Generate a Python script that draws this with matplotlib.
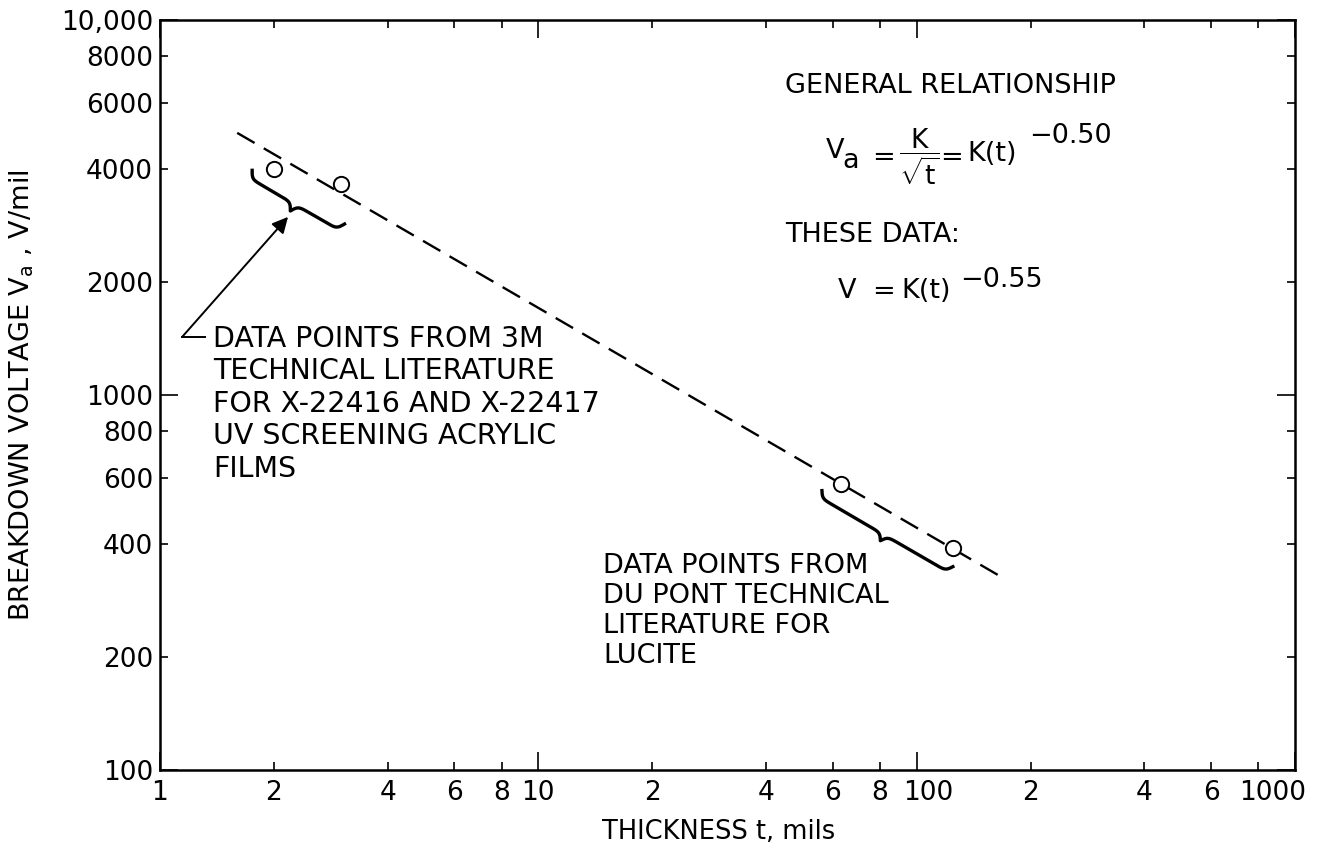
import numpy as np
import matplotlib
matplotlib.use("Agg")
import matplotlib.pyplot as plt
from matplotlib.transforms import IdentityTransform, ScaledTranslation

plt.rcParams['font.family'] = ['DejaVu Sans']
plt.rcParams['mathtext.fontset'] = 'custom'
plt.rcParams['mathtext.rm'] = 'DejaVu Sans'
plt.rcParams['mathtext.it'] = 'DejaVu Sans'
plt.rcParams['mathtext.bf'] = 'DejaVu Sans:bold'

# data
thick_3m = [2.0, 3.0]
volt_3m = [4000, 3650]
thick_dupont = [63, 125]
volt_dupont = [580, 390]
fit_thick = [1.6, 165]
fit_volt = [5000, 330]

x_major = [1, 10, 100, 1000]
x_major_labels = ['1', '10', '100', '1000']
x_minor = [2, 4, 6, 8, 20, 40, 60, 80, 200, 400, 600, 800]
x_minor_labels = ['2', '4', '6', '8', '2', '4', '6', '8', '2', '4', '6', '']
y_major = [100, 1000, 10000]
y_major_labels = ['100', '1000', '10,000']
y_minor = [200, 400, 600, 800, 2000, 4000, 6000, 8000]
y_minor_labels = ['200', '400', '600', '800', '2000', '4000', '6000', '8000']

W, H = 1319, 846
FS = 19.5


def px(x, y):
    # pixel position (from top left) -> figure fraction
    return x / W, 1 - y / H


fig = plt.figure(figsize=(W / 100, H / 100), dpi=100)
ax = fig.add_axes([160 / W, 76 / H, 1135 / W, 750 / H])
ax.set_xscale('log')
ax.set_yscale('log')
ax.set_xlim(1, 1000)
ax.set_ylim(100, 10000)

ax.set_xticks(x_major, x_major_labels)
ax.set_xticks(x_minor, x_minor_labels, minor=True)
ax.set_yticks(y_major, y_major_labels)
ax.set_yticks(y_minor, y_minor_labels, minor=True)
ax.tick_params(which='both', direction='in', top=True, right=True,
               labelsize=19, width=1.2, color='black')
ax.tick_params(which='major', length=13)
ax.tick_params(which='minor', length=6)
ax.tick_params(axis='x', which='both', pad=7)
ax.tick_params(axis='y', which='both', pad=5)
for s in ax.spines.values():
    s.set_linewidth(1.8)

# nudge the crowded decade labels like the original
xlabs = ax.xaxis.get_majorticklabels()
for lab, dx in [(xlabs[2], 12), (xlabs[3], -22)]:
    lab.set_transform(lab.get_transform() + ScaledTranslation(dx / 100, 0, fig.dpi_scale_trans))

ax.plot(fit_thick, fit_volt, color='black', lw=1.7, ls=(0, (8.5, 4.5)))
ax.plot(thick_3m, volt_3m, 'o', mfc='white', mec='black', ms=11, mew=1.4, zorder=3)
ax.plot(thick_dupont, volt_dupont, 'o', mfc='white', mec='black', ms=11, mew=1.4, zorder=3)


def brace(t0, t1, drop, depth):
    tr = ax.transData
    a0 = tr.transform((fit_thick[0], fit_volt[0]))
    a1 = tr.transform((fit_thick[1], fit_volt[1]))
    d = a1 - a0

    def on_line(t):
        xd = tr.transform((t, 1000))[0]
        return a0 + d * (xd - a0[0]) / d[0]

    p = on_line(t0) - np.array([0, drop])
    q = on_line(t1) - np.array([0, drop])
    u = (q - p) / np.hypot(*(q - p))
    nrm = np.array([u[1], -u[0]])
    L = np.hypot(*(q - p))
    xh = np.linspace(0, L / 2, 150)
    beta = 0.45
    yh = 1 / (1 + np.exp(-beta * xh)) + 1 / (1 + np.exp(-beta * (xh - L / 2)))
    s = np.concatenate([xh, L - xh[-2::-1]])
    v = (np.concatenate([yh, yh[-2::-1]]) - 1) * depth
    pts = p + np.outer(s, u) + np.outer(v, nrm)
    ax.plot(pts[:, 0], pts[:, 1], color='black', lw=2.4,
            transform=IdentityTransform(), clip_on=False)


brace(1.71, 3.0, 38, 16)
brace(55, 122, 26, 14)

# arrow to the upper brace
ax.annotate('', xy=(2.18, 2985), xytext=(1.144, 1428),
            arrowprops=dict(arrowstyle='-|>', color='black', lw=1.4,
                            mutation_scale=24, shrinkA=0, shrinkB=0))
ax.plot([1.144, 1.316], [1428, 1428], color='black', lw=1.4)

left_lines = ['DATA POINTS FROM 3M', 'TECHNICAL LITERATURE',
              'FOR X-22416 AND X-22417', 'UV SCREENING ACRYLIC', 'FILMS']
for i, s in enumerate(left_lines):
    fig.text(*px(213, 347 + i * 32.4), s, fontsize=20.5, va='baseline', ha='left')

low_lines = ['DATA POINTS FROM', 'DU PONT TECHNICAL', 'LITERATURE FOR', 'LUCITE']
for i, s in enumerate(low_lines):
    fig.text(*px(603, 573 + i * 30), s, fontsize=FS, va='baseline', ha='left')

fig.text(*px(785, 93), 'GENERAL RELATIONSHIP', fontsize=FS, va='baseline')
fig.text(*px(785, 242), 'THESE DATA:', fontsize=FS, va='baseline')

# V_a = K / sqrt(t) = K(t)^-0.50
fig.text(*px(826, 158), 'V', fontsize=FS, va='baseline')
fig.text(*px(842, 168), 'a', fontsize=FS, va='baseline')
fig.text(*px(872, 165), '=', fontsize=FS, va='baseline')
fig.text(*px(919, 157), r'$\dfrac{K}{\sqrt{t}}$', fontsize=19, va='center', ha='center')
fig.text(*px(940, 165), '=', fontsize=FS, va='baseline')
fig.text(*px(967, 161), 'K(t)', fontsize=FS, va='baseline')
fig.text(*px(1029, 143), '\u22120.50', fontsize=FS, va='baseline')

# V = K(t)^-0.55
fig.text(*px(838, 298), 'V', fontsize=FS, va='baseline')
fig.text(*px(872, 299), '=', fontsize=FS, va='baseline')
fig.text(*px(901, 298), 'K(t)', fontsize=FS, va='baseline')
fig.text(*px(960, 287), '\u22120.55', fontsize=FS, va='baseline')

fig.text(*px(22, 395), r'BREAKDOWN VOLTAGE V$_\mathregular{a}$ , V/mil',
         fontsize=FS, rotation=90, va='center', ha='center')
fig.text(*px(719, 832), 'THICKNESS t, mils', fontsize=18.5, va='center', ha='center')

fig.savefig('out.png', dpi=100)
